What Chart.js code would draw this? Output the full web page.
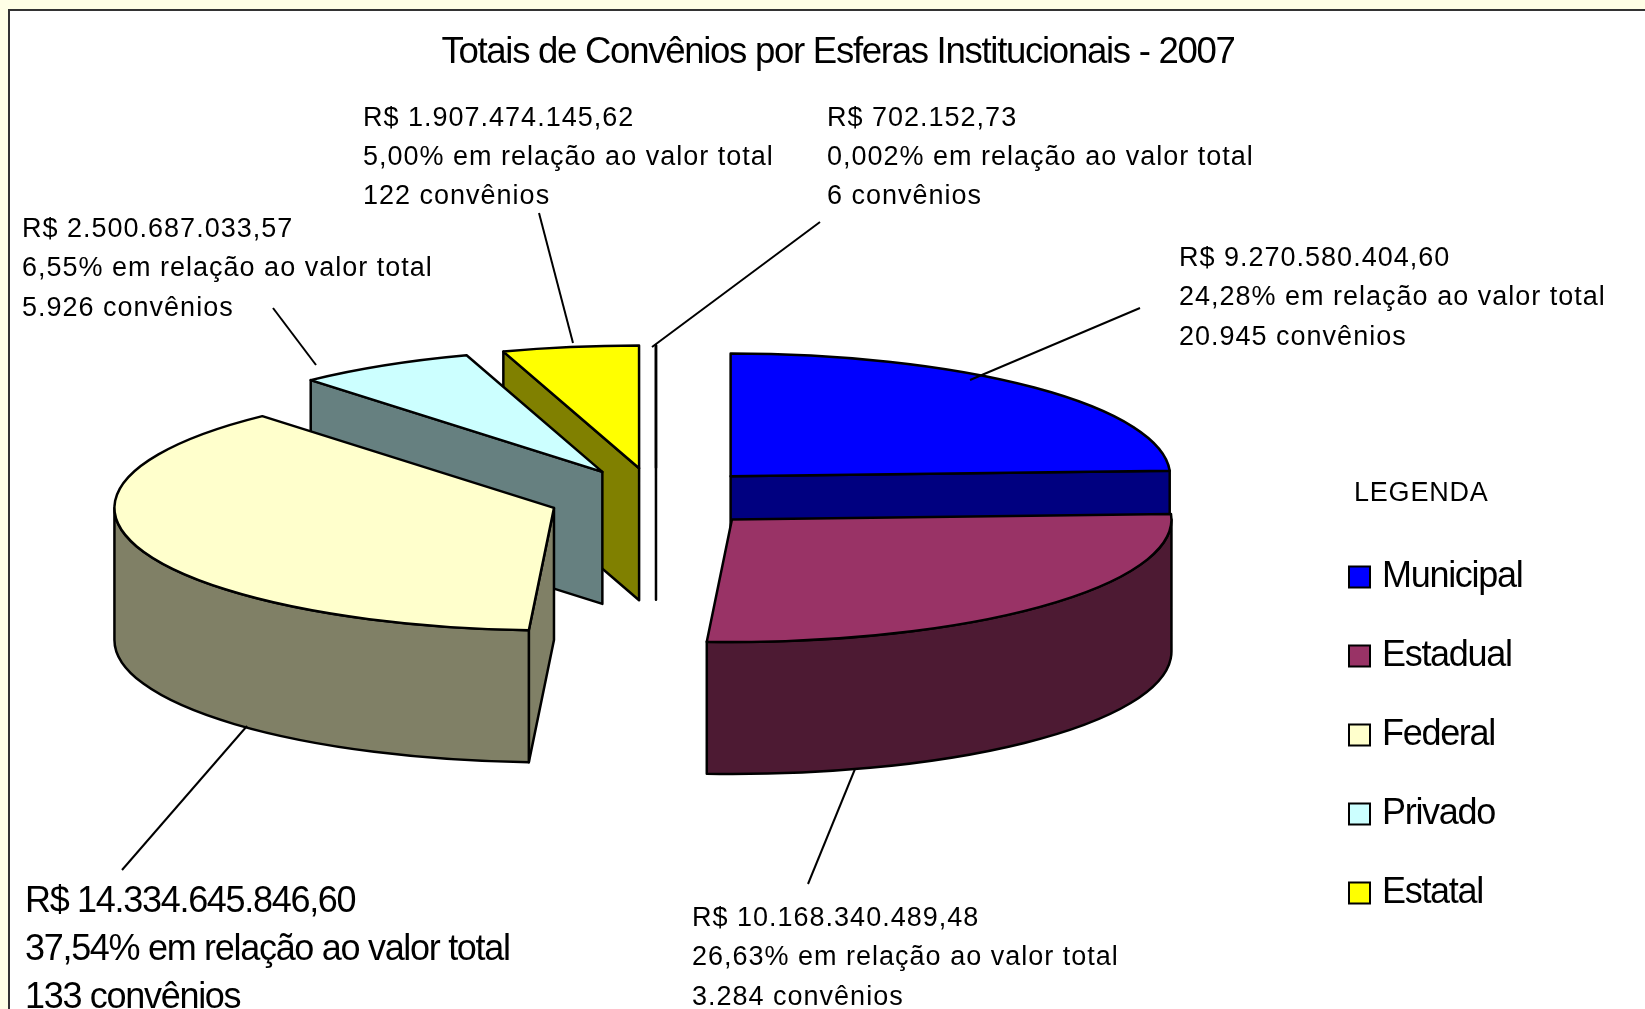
<!DOCTYPE html>
<html lang="pt-BR">
<head>
<meta charset="utf-8">
<title>Totais de Convênios por Esferas Institucionais - 2007</title>
<style>
  html, body { margin: 0; height: 100%; overflow: hidden; background: #ffffe6; }
  #frame { position: absolute; left: 8px; top: 9px; width: 1650px; height: 1020px; background: #fff; border: 2px solid #333; }
  #wrap { position: absolute; left: 0; top: 0; width: 1645px; height: 1009px; }
</style>
</head>
<body>
<div id="frame"></div>
<div id="wrap"><canvas id="chart"></canvas></div>
<script src="https://cdn.jsdelivr.net/npm/chart.js@4"></script>
<script>
const categories = ['Municipal', 'Estadual', 'Federal', 'Privado', 'Estatal', 'Outros'];
const values = [9270580404.60, 10168340489.48, 14334645846.60, 2500687033.57, 1907474145.62, 702152.73];
const topColors = ['#0000ff', '#993366', '#ffffcc', '#ccffff', '#ffff00', '#ffffff'];
const wallColors = ['#000080', '#4d1a33', '#808066', '#668080', '#808000', '#ffffff'];

const valueLabels = ['R$ 9.270.580.404,60', 'R$ 10.168.340.489,48', 'R$ 14.334.645.846,60', 'R$ 2.500.687.033,57', 'R$ 1.907.474.145,62', 'R$ 702.152,73'];
const shareLabels = ['24,28% em relação ao valor total', '26,63% em relação ao valor total', '37,54% em relação ao valor total', '6,55% em relação ao valor total', '5,00% em relação ao valor total', '0,002% em relação ao valor total'];
const countLabels = ['20.945 convênios', '3.284 convênios', '133 convênios', '5.926 convênios', '122 convênios', '6 convênios'];

// posicao dos textos: x, y da primeira linha, tamanho, entrelinha, espacamento
const labelBoxes = [
  [1179, 266, 27, 39.3, '1px'],
  [692, 926, 27, 39.3, '1px'],
  [25, 912, 36, 48, '-1.3px'],
  [22, 237, 27, 39.3, '1px'],
  [363, 126, 27, 39, '1px'],
  [827, 126, 27, 39, '1px']
];
// linhas de chamada: x1, y1, x2, y2
const leaders = [
  [1140, 308, 970, 380],
  [808, 884, 855, 769],
  [122, 870, 247, 726],
  [273, 308, 316, 365],
  [539, 213, 573, 343],
  [820, 222, 652, 347]
];

// ordem de pintura, do fundo para a frente
const paintOrder = [5, 4, 3, 2, 0, 1];
const CENTER_X = 656;
const CENTER_Y = 498;
const SQUASH = 0.279;
const EXPLODE = 108;
const DEPTH = 132;

function sliceCenter(arc) {
  const mid = (arc.startAngle + arc.endAngle) / 2;
  return {
    x: CENTER_X + Math.cos(mid) * EXPLODE,
    y: CENTER_Y + Math.sin(mid) * EXPLODE * SQUASH
  };
}

function rimPoint(c, r, angle) {
  return { x: c.x + Math.cos(angle) * r, y: c.y + Math.sin(angle) * r * SQUASH };
}

function paintPath(ctx, fill) {
  ctx.fillStyle = fill;
  ctx.fill();
  ctx.stroke();
}

function drawRadialWall(ctx, c, r, angle, fill) {
  const p = rimPoint(c, r, angle);
  ctx.beginPath();
  ctx.moveTo(c.x, c.y);
  ctx.lineTo(p.x, p.y);
  ctx.lineTo(p.x, p.y + DEPTH);
  ctx.lineTo(c.x, c.y + DEPTH);
  ctx.closePath();
  paintPath(ctx, fill);
}

function drawOuterWall(ctx, c, r, a0, a1, fill) {
  // so a parte da borda virada para a frente (0 a PI)
  let from = a0, to = a1;
  if (from >= Math.PI) { return; }
  from = Math.max(from, 0);
  to = Math.min(to, Math.PI);
  if (to <= from) { return; }
  const ry = r * SQUASH;
  ctx.beginPath();
  ctx.ellipse(c.x, c.y, r, ry, 0, from, to);
  ctx.ellipse(c.x, c.y + DEPTH, r, ry, 0, to, from, true);
  ctx.closePath();
  paintPath(ctx, fill);
}

const pie3d = {
  id: 'pie3d',
  afterLayout(chart) {
    const legend = chart.legend;
    legend.left = 1312; legend.right = 1645;
    legend.top = 516; legend.bottom = 1000;
    const title = chart.titleBlock;
    title.left = 0; title.right = 1676;
    title.top = 31; title.bottom = 74;
  },
  beforeDraw(chart) {
    chart.ctx.letterSpacing = '-1.3px';
  },
  beforeDatasetDraw(chart) {
    const ctx = chart.ctx;
    const arcs = chart.getDatasetMeta(0).data;
    paintOrder.forEach(i => {
      const arc = arcs[i];
      const c = sliceCenter(arc);
      const r = arc.outerRadius;
      const a0 = arc.startAngle;
      const a1 = arc.endAngle;
      ctx.save();
      ctx.lineWidth = 2.5;
      ctx.strokeStyle = '#000';
      ctx.lineJoin = 'round';
      if (-Math.cos(a0) > 0) { drawRadialWall(ctx, c, r, a0, wallColors[i]); }
      if (Math.cos(a1) > 0) { drawRadialWall(ctx, c, r, a1, wallColors[i]); }
      drawOuterWall(ctx, c, r, a0, a1, wallColors[i]);

      // topo da fatia: o proprio arco do Chart.js, achatado
      ctx.save();
      ctx.translate(c.x, c.y);
      ctx.scale(1, SQUASH);
      ctx.translate(-arc.x, -arc.y);
      arc.draw(ctx);
      ctx.restore();

      ctx.beginPath();
      ctx.moveTo(c.x, c.y);
      ctx.ellipse(c.x, c.y, r, r * SQUASH, 0, a0, a1);
      ctx.closePath();
      ctx.stroke();
      ctx.restore();
    });
    return false;
  },
  afterDraw(chart) {
    const ctx = chart.ctx;
    ctx.save();
    ctx.strokeStyle = '#000';
    ctx.lineWidth = 2;
    leaders.forEach(l => {
      ctx.beginPath();
      ctx.moveTo(l[0], l[1]);
      ctx.lineTo(l[2], l[3]);
      ctx.stroke();
    });
    ctx.fillStyle = '#000';
    ctx.textBaseline = 'alphabetic';
    labelBoxes.forEach((b, i) => {
      ctx.font = b[2] + 'px "Liberation Sans"';
      ctx.letterSpacing = b[4];
      ctx.fillText(valueLabels[i], b[0], b[1]);
      ctx.fillText(shareLabels[i], b[0], b[1] + b[3]);
      ctx.fillText(countLabels[i], b[0], b[1] + b[3] * 2);
    });
    ctx.font = '27px "Liberation Sans"';
    ctx.letterSpacing = '0.8px';
    ctx.fillText('LEGENDA', 1354, 501);
    ctx.restore();
  }
};

new Chart(document.getElementById('chart'), {
  type: 'pie',
  data: {
    labels: categories,
    datasets: [{
      data: values,
      backgroundColor: topColors,
      borderWidth: 0
    }]
  },
  options: {
    responsive: true,
    maintainAspectRatio: false,
    animation: false,
    layout: { padding: { top: 15, bottom: 71 } },
    plugins: {
      tooltip: { enabled: false },
      title: {
        display: true,
        text: 'Totais de Convênios por Esferas Institucionais - 2007',
        color: '#000',
        padding: 0,
        font: { family: '"Liberation Sans"', size: 36.6, weight: 'normal' }
      },
      legend: {
        position: 'right',
        align: 'start',
        labels: {
          color: '#000',
          font: { family: '"Liberation Sans"', size: 36 },
          padding: 43,
          usePointStyle: true,
          boxWidth: 9,
          boxHeight: 21,
          generateLabels(chart) {
            const items = Chart.overrides.pie.plugins.legend.labels.generateLabels(chart);
            return items.slice(0, 5).map(item => Object.assign(item, {
              pointStyle: 'rect',
              strokeStyle: '#000',
              lineWidth: 2
            }));
          }
        }
      }
    }
  },
  plugins: [pie3d]
});
</script>
</body>
</html>
